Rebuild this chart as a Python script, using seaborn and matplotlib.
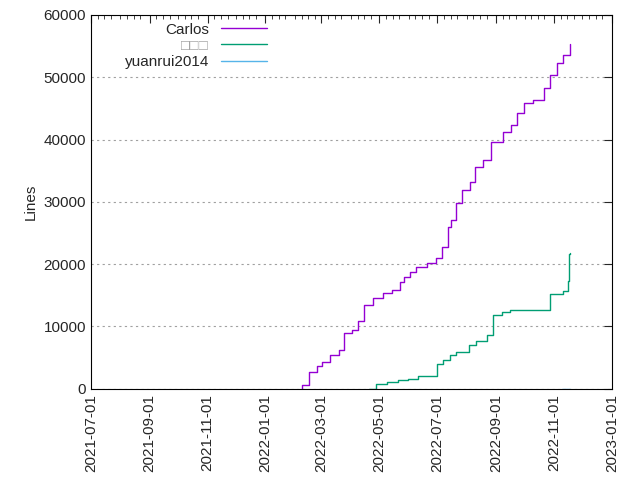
import matplotlib

matplotlib.use("Agg")
import matplotlib.pyplot as plt
import matplotlib.dates as mdates
import pandas as pd
import seaborn as sns

# cumulative lines per author
carlos_dates = ["2022-02-08", "2022-02-09", "2022-02-16", "2022-02-24", "2022-03-02",
                "2022-03-10", "2022-03-20", "2022-03-25", "2022-04-02", "2022-04-09",
                "2022-04-15", "2022-04-24", "2022-05-05", "2022-05-14", "2022-05-23",
                "2022-05-27", "2022-06-02", "2022-06-09", "2022-06-20", "2022-06-30",
                "2022-07-06", "2022-07-12", "2022-07-16", "2022-07-21", "2022-07-27",
                "2022-08-04", "2022-08-10", "2022-08-18", "2022-08-27", "2022-09-08",
                "2022-09-17", "2022-09-23", "2022-09-30", "2022-10-10", "2022-10-21",
                "2022-10-28", "2022-11-04", "2022-11-11", "2022-11-18"]
carlos_lines = [0, 640, 2680, 3690, 4380, 5450, 6260, 8930, 9460, 10800,
                13470, 14550, 15350, 15880, 17210, 17920, 18820, 19520, 20160, 20960,
                22830, 26040, 27110, 29790, 31930, 33260, 35660, 36740, 39670, 41180,
                42350, 44230, 45830, 46360, 48240, 50370, 52250, 53580, 55350]

cn_dates = ["2022-04-20", "2022-04-27", "2022-05-09", "2022-05-21", "2022-05-31",
            "2022-06-11", "2022-07-01", "2022-07-07", "2022-07-14", "2022-07-21",
            "2022-08-03", "2022-08-11", "2022-08-22", "2022-08-29", "2022-09-07",
            "2022-09-16", "2022-09-26", "2022-10-28", "2022-11-11", "2022-11-16",
            "2022-11-17", "2022-11-18"]
cn_lines = [0, 700, 1070, 1340, 1600, 2000, 4010, 4550, 5350, 5880,
            6950, 7750, 8560, 11870, 12300, 12570, 12720, 15240, 15770, 17260,
            21640, 21750]

yuan_dates = ["2022-11-10", "2022-11-18"]
yuan_lines = [0, 40]

authors = ["Carlos", "\u25a1\u25a1\u25a1", "yuanrui2014"]
colors = ["#9400d3", "#009e73", "#56b4e9"]

sns.set_style("white")
plt.rcParams["font.family"] = ["Liberation Sans", "DejaVu Sans"]
fig = plt.figure(figsize=(6.4, 4.8), dpi=100)
ax = fig.add_axes([0.142, 0.19, 0.814, 0.779])

for name, d, v, c in zip(authors, [carlos_dates, cn_dates, yuan_dates],
                         [carlos_lines, cn_lines, yuan_lines], colors):
    df = pd.DataFrame({"date": pd.to_datetime(d), "lines": v})
    sns.lineplot(data=df, x="date", y="lines", ax=ax, color=c, lw=1,
                 drawstyle="steps-post", label=name)

ax.set_xlim(pd.Timestamp("2021-07-01"), pd.Timestamp("2023-01-01"))
ax.set_ylim(0, 60000)
ax.set_yticks(range(0, 60001, 10000))
ax.xaxis.set_major_locator(mdates.MonthLocator(bymonth=[1, 3, 5, 7, 9, 11]))
ax.xaxis.set_major_formatter(mdates.DateFormatter("%Y-%m-%d"))
ax.xaxis.set_minor_locator(mdates.DayLocator(bymonthday=[1, 8, 15, 22]))
ax.set_xlabel("")
ax.set_ylabel("Lines", fontsize=11)
ax.tick_params(axis="x", rotation=90, labelsize=11, pad=4)
ax.tick_params(axis="y", labelsize=11)
ax.tick_params(which="both", direction="in", top=True, right=True)
ax.tick_params(which="major", length=6)
ax.tick_params(which="minor", length=3)
ax.grid(axis="y", color="#a0a0a0", linestyle=(0, (2, 3)), lw=0.8)
for s in ax.spines.values():
    s.set_color("black")

leg = ax.legend(loc="upper left", frameon=False, markerfirst=False,
                fontsize=11, handlelength=3, borderaxespad=0.1,
                bbox_to_anchor=(0.05, 1.0), labelspacing=0.15)
leg.get_texts()[1].set_color("#a0a0a0")

fig.savefig("out.png")
